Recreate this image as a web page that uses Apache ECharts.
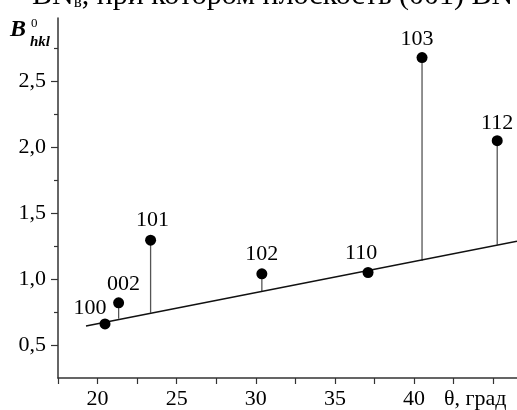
<!DOCTYPE html>
<html>
<head>
<meta charset="utf-8">
<script src="https://cdn.jsdelivr.net/npm/echarts@6/dist/echarts.min.js"></script>
<style>
  html, body { margin: 0; padding: 0; background: #fff; }
  #chart { width: 517px; height: 410px; }
</style>
</head>
<body>
<div id="chart"></div>
<script>
// reflections (hkl), Bragg angle and measured B value, plus base on the fit line
const hkl = ["100", "002", "101", "102", "110", "103", "112"];
const theta = [20.47, 21.33, 23.35, 30.38, 37.09, 40.5, 45.25];
const bValue = [0.66, 0.82, 1.295, 1.04, 1.05, 2.68, 2.05];
const bBase = [0.66, 0.70, 0.745, 0.905, 1.06, 1.14, 1.26];

// straight fit line end points
const fitTheta = [19.27, 46.5];
const fitB = [0.644, 1.287];

const xMajorTicks = [20, 25, 30, 35, 40, 45];
const xMinorTicks = [17.5, 22.5, 27.5, 32.5, 37.5, 42.5];
const xLabels = [20, 25, 30, 35, 40];
const yMajorTicks = [0.5, 1.0, 1.5, 2.0, 2.5];
const yMinorTicks = [0.75, 1.25, 1.75, 2.25, 2.75];

// label offsets from the dot centre (layout only)
const labelOffsets = [[-15, -16], [5, -19], [2, -20], [0, -20], [-7, -19], [-5, -18], [0, -17]];

const FONT = "Liberation Serif";
const AXIS_COLOR = "#333";
const TEXT_COLOR = "#000";

const fmt = (v) => String(v.toFixed(1)).replace(".", ",");

const chart = echarts.init(document.getElementById("chart"));

const option = {
    animation: false,
    backgroundColor: "#fff",
    grid: { left: 58, right: 0, top: 18, bottom: 32, outerBoundsMode: "none", containLabel: false },
    xAxis: [
        {
            type: "value", min: 17.5, max: 46.5,
            axisLine: { lineStyle: { color: AXIS_COLOR, width: 1.5 } },
            axisTick: { customValues: xMajorTicks, length: 6, lineStyle: { color: AXIS_COLOR, width: 1.2 } },
            axisLabel: {
                customValues: xLabels, margin: 10,
                fontFamily: FONT, fontSize: 22, color: TEXT_COLOR
            },
            splitLine: { show: false },
            name: "θ, град", nameLocation: "end", nameGap: -73,
            nameTextStyle: { fontFamily: FONT, fontSize: 22, color: TEXT_COLOR, align: "left", verticalAlign: "top", padding: [10, 0, 0, 0] }
        },
        {
            type: "value", min: 17.5, max: 46.5, position: "bottom",
            axisLine: { show: false },
            axisTick: { customValues: xMinorTicks, length: 6, lineStyle: { color: AXIS_COLOR, width: 1.2 } },
            axisLabel: { show: false },
            splitLine: { show: false }
        }
    ],
    yAxis: [
        {
            type: "value", min: 0.25, max: 2.98,
            axisLine: { show: true, lineStyle: { color: AXIS_COLOR, width: 1.5 } },
            axisTick: { show: true, customValues: yMajorTicks, length: 7, lineStyle: { color: AXIS_COLOR, width: 1.2 } },
            axisLabel: {
                customValues: yMajorTicks, margin: 12, formatter: fmt,
                fontFamily: FONT, fontSize: 22, color: TEXT_COLOR
            },
            splitLine: { show: false }
        },
        {
            type: "value", min: 0.25, max: 2.98, position: "left",
            axisLine: { show: false },
            axisTick: { show: true, customValues: yMinorTicks, length: 4, lineStyle: { color: AXIS_COLOR, width: 1.2 } },
            axisLabel: { show: false },
            splitLine: { show: false }
        }
    ],
    graphic: [
        {
            type: "text", x: 32, y: -4,
            style: {
                text: "BN{s|в}, при котором плоскость (001) BN",
                font: "30px " + FONT, fill: TEXT_COLOR, verticalAlign: "middle",
                rich: { s: { fontFamily: FONT, fontSize: 17, verticalAlign: "bottom" } }
            }
        },
        { type: "text", x: 10, y: 30, style: { text: "B", font: "italic bold 24px " + FONT, fill: TEXT_COLOR, verticalAlign: "middle" } },
        { type: "text", x: 31, y: 24, style: { text: "0", font: "13px " + FONT, fill: TEXT_COLOR, verticalAlign: "middle" } },
        { type: "text", x: 30, y: 42, style: { text: "hkl", font: "italic bold 15px " + FONT, fill: TEXT_COLOR, verticalAlign: "middle" } }
    ],
    series: [
        {
            type: "line",
            data: fitTheta.map((t, i) => [t, fitB[i]]),
            showSymbol: false, symbol: "none",
            lineStyle: { color: "#111", width: 1.6 },
            z: 3
        },
        {
            type: "custom",
            data: theta.map((t, i) => [t, bBase[i], bValue[i]]),
            renderItem: function (params, api) {
                const p0 = api.coord([api.value(0), api.value(1)]);
                const p1 = api.coord([api.value(0), api.value(2)]);
                return {
                    type: "line",
                    shape: { x1: p0[0], y1: p0[1], x2: p1[0], y2: p1[1] },
                    style: { stroke: "#555", lineWidth: 1.3 }
                };
            },
            z: 2
        },
        {
            type: "scatter",
            symbolSize: 11,
            itemStyle: { color: "#000", opacity: 1 },
            data: theta.map((t, i) => ({
                value: [t, bValue[i]],
                label: {
                    show: true, position: "inside", offset: labelOffsets[i],
                    formatter: hkl[i], fontFamily: FONT, fontSize: 22, color: TEXT_COLOR
                }
            })),
            z: 4
        }
    ]
};

chart.setOption(option);
</script>
</body>
</html>
